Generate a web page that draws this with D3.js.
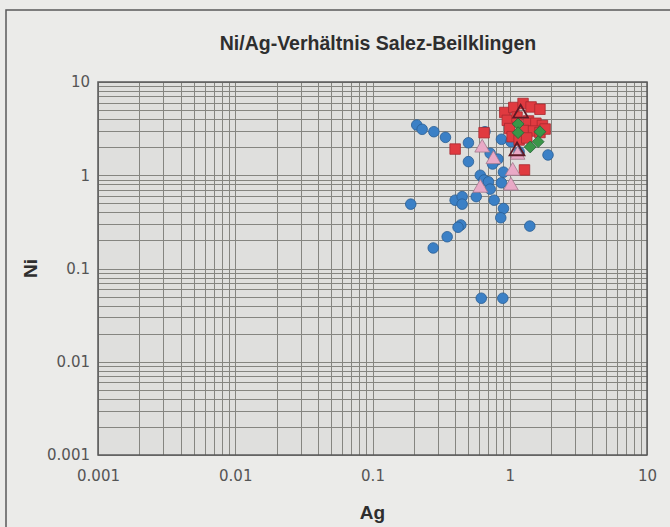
<!DOCTYPE html>
<html>
<head>
<meta charset="utf-8">
<script src="https://cdn.jsdelivr.net/npm/d3@7"></script>
<style>
  body { margin: 0; background: #ebebe9; overflow: hidden; }
  svg { display: block; }
</style>
</head>
<body>
<div id="chart"></div>
<script>
// chart data (Ag, Ni)

var tickValues = [0.001, 0.01, 0.1, 1, 10];
var tickLabels = ["0.001", "0.01", "0.1", "1", "10"];

// blue circles
var blueAg = [0.19, 0.21, 0.23, 0.28, 0.34, 0.50, 0.66, 0.87, 1.02, 0.50, 0.80, 1.90,
  0.90, 0.61, 0.65, 0.70, 0.72, 0.57, 0.77, 0.87, 0.90, 0.86, 1.40, 0.44, 0.42, 0.35,
  0.277, 0.40, 0.45, 0.45, 0.62, 0.89, 0.72, 0.82, 1.17, 0.75];
var blueNi = [0.49, 3.46, 3.11, 2.93, 2.55, 2.23, 2.93, 2.43, 2.29, 1.40, 1.46, 1.65,
  1.08, 1.00, 0.89, 0.85, 0.71, 0.59, 0.54, 0.83, 0.44, 0.35, 0.285, 0.293, 0.277, 0.219,
  0.166, 0.54, 0.59, 0.49, 0.048, 0.048, 1.72, 1.49, 1.78, 1.32];

// red squares
var redAg = [0.65, 0.40, 1.28, 0.92, 1.07, 1.25, 1.43, 1.66, 0.96, 1.37, 1.55, 1.73,
  1.00, 1.26, 1.49, 1.04, 1.17, 1.33, 1.66, 1.13, 1.81];
var redNi = [2.86, 1.91, 1.14, 4.71, 5.33, 5.88, 5.40, 5.10, 3.88, 3.82, 3.61, 3.42,
  3.17, 3.02, 2.98, 2.59, 2.39, 2.51, 2.87, 4.21, 3.13];

// pink triangles
var pinkAg = [0.63, 0.76, 1.14, 1.05, 0.61, 1.02];
var pinkNi = [1.97, 1.48, 1.65, 1.11, 0.73, 0.77];

// green diamonds
var greenAg = [1.15, 1.15, 1.66, 1.61, 1.41];
var greenNi = [3.55, 2.86, 2.93, 2.29, 2.01];

// dark open triangles
var darkAg = [1.20, 1.13];
var darkNi = [4.62, 1.82];

var svgWidth = 670;
var svgHeight = 527;

var plot = { left: 98, right: 647, top: 82, bottom: 455 };

var svg = d3.select("#chart")
  .append("svg")
  .attr("width", svgWidth)
  .attr("height", svgHeight);

// outer frame, only left and top edges are in the picture
svg.append("path")
  .attr("d", `M6,${svgHeight} V10 H${svgWidth}`)
  .attr("fill", "none")
  .attr("stroke", "#5a5a5a")
  .attr("stroke-width", 1.5);

var x = d3.scaleLog().domain([0.001, 10]).range([plot.left, plot.right]);
var y = d3.scaleLog().domain([0.001, 10]).range([plot.bottom, plot.top]);

// plot background
svg.append("rect")
  .attr("x", plot.left)
  .attr("y", plot.top)
  .attr("width", plot.right - plot.left)
  .attr("height", plot.bottom - plot.top)
  .attr("fill", "#dfdfdd");

// log grid, 1..9 per decade
var gridVals = [];
for (var d = -3; d < 1; d++) {
  for (var k = 1; k < 10; k++) gridVals.push(k * Math.pow(10, d));
}
gridVals.push(10);

var grid = svg.append("g")
  .attr("stroke", "#858580")
  .attr("stroke-width", 1)
  .attr("shape-rendering", "crispEdges");

grid.selectAll(".vline")
  .data(gridVals)
  .enter()
  .append("line")
  .attr("x1", d => Math.round(x(d)) + 0.5)
  .attr("x2", d => Math.round(x(d)) + 0.5)
  .attr("y1", plot.top)
  .attr("y2", plot.bottom);

grid.selectAll(".hline")
  .data(gridVals)
  .enter()
  .append("line")
  .attr("y1", d => Math.round(y(d)) + 0.5)
  .attr("y2", d => Math.round(y(d)) + 0.5)
  .attr("x1", plot.left)
  .attr("x2", plot.right);

svg.append("rect")
  .attr("x", plot.left)
  .attr("y", plot.top)
  .attr("width", plot.right - plot.left)
  .attr("height", plot.bottom - plot.top)
  .attr("fill", "none")
  .attr("stroke", "#5a5a5a")
  .attr("stroke-width", 1.5);

// axes, labels only
var fmt = function(d) { return tickLabels[tickValues.indexOf(d)]; };

var xAxis = svg.append("g")
  .attr("transform", `translate(0, ${plot.bottom})`)
  .call(d3.axisBottom(x).tickValues(tickValues).tickSize(0).tickPadding(15).tickFormat(fmt));

var yAxis = svg.append("g")
  .attr("transform", `translate(${plot.left}, 0)`)
  .call(d3.axisLeft(y).tickValues(tickValues).tickSize(0).tickPadding(8).tickFormat(fmt));

[xAxis, yAxis].forEach(function(a) {
  a.select(".domain").remove();
  a.selectAll("text")
    .style("font-family", "'DejaVu Sans', sans-serif")
    .style("font-size", "15px")
    .attr("fill", "#555555");
});

// markers
function drawSeries(xs, ys, symbol, size, fill, stroke, rotate) {
  var pts = xs.map((v, i) => ({ ag: v, ni: ys[i] }));
  svg.append("g")
    .selectAll("path")
    .data(pts)
    .enter()
    .append("path")
    .attr("d", d3.symbol().type(symbol).size(size))
    .attr("transform", d => `translate(${x(d.ag)}, ${y(d.ni)}) rotate(${rotate || 0})`)
    .attr("fill", fill)
    .attr("stroke", stroke)
    .attr("stroke-width", fill === "none" ? 1.8 : 0.8);
}

drawSeries(blueAg, blueNi, d3.symbolCircle, 88, "#3b80c6", "#285d93");
drawSeries(redAg, redNi, d3.symbolSquare, 110, "#e03a40", "#a82a30");
drawSeries(pinkAg, pinkNi, d3.symbolTriangle, 95, "#e9a9c6", "#a0788c");
drawSeries(greenAg, greenNi, d3.symbolSquare, 70, "#3a9648", "#27673a", 45);
drawSeries(darkAg, darkNi, d3.symbolTriangle, 95, "none", "#5e1a26");

// title and axis titles
svg.append("text")
  .attr("x", 378)
  .attr("y", 50)
  .attr("text-anchor", "middle")
  .style("font-family", "'Liberation Sans', Arial, sans-serif")
  .style("font-size", "19.5px")
  .style("font-weight", "bold")
  .attr("fill", "#2e2e2e")
  .text("Ni/Ag-Verhältnis Salez-Beilklingen");

svg.append("text")
  .attr("x", (plot.left + plot.right) / 2)
  .attr("y", 519)
  .attr("text-anchor", "middle")
  .style("font-family", "'Liberation Sans', Arial, sans-serif")
  .style("font-size", "19px")
  .style("font-weight", "bold")
  .attr("fill", "#2e2e2e")
  .text("Ag");

svg.append("text")
  .attr("transform", `translate(37, ${(plot.top + plot.bottom) / 2}) rotate(-90)`)
  .attr("text-anchor", "middle")
  .style("font-family", "'Liberation Sans', Arial, sans-serif")
  .style("font-size", "19px")
  .style("font-weight", "bold")
  .attr("fill", "#2e2e2e")
  .text("Ni");
</script>
</body>
</html>
